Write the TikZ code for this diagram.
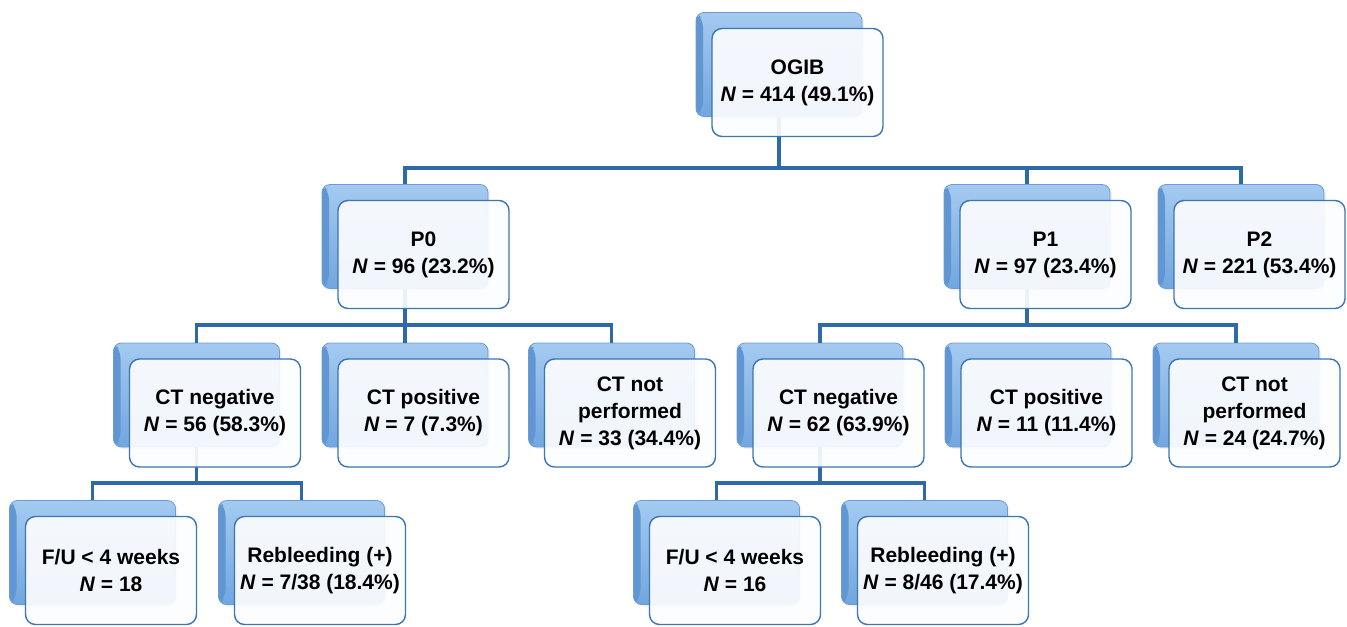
\documentclass[tikz,border=0pt]{standalone}
\usepackage{fontspec}
\setmainfont{Liberation Sans}
\usetikzlibrary{shadows}
\definecolor{cardtop}{HTML}{A4CAF0}
\definecolor{cardmid}{HTML}{7EB1E7}
\definecolor{cardmain}{HTML}{71A6DF}
\definecolor{carddark}{HTML}{6196D2}
\definecolor{cardedge}{HTML}{6A9DD6}
\definecolor{frontedge}{HTML}{3B75B2}
\definecolor{frontfill}{HTML}{FCFDFF}
\definecolor{linkblue}{HTML}{2D6AA7}
\begin{document}
\begin{tikzpicture}[x=0.5pt, y=-0.5pt,
  backcard/.style={rounded corners=4pt, draw=cardedge, line width=0.4pt,
    minimum width=83pt, minimum height=52pt, inner sep=0pt,
    top color=cardtop, middle color=cardmid, bottom color=cardmain,
    drop shadow={opacity=0.12, shadow xshift=1pt, shadow yshift=-1pt},
    path picture={\fill[carddark] (path picture bounding box.north west)
      -- ++(3.5pt,-3.5pt) -- ([shift={(3.5pt,3.5pt)}]path picture bounding box.south west)
      -- (path picture bounding box.south west) -- cycle;}},
  frontbox/.style={rounded corners=5pt, draw=frontedge, line width=0.7pt,
    fill=frontfill, fill opacity=0.92, text opacity=1,
    minimum width=85.5pt, minimum height=54pt, inner sep=0pt, align=center,
    font=\bfseries\fontsize{10.5}{13.5}\selectfont},
  link/.style={draw=linkblue, line width=1.6pt}]
  \useasboundingbox (0,0) rectangle (1347,626);
  % Ebenen der Querlinien
  \coordinate (lev1) at (0,168);
  \coordinate (lev2) at (0,325);
  \coordinate (lev3) at (0,483);
  % hintere Karten
  \foreach \nm/\px/\py in {ogib/779/64.5, p0/405/236.5, p1/1027/236.5, p2/1241/236.5,
      ctnl/196.5/395, ctpl/405/395, ctxl/611.5/395,
      ctnr/820/395, ctpr/1028/395, ctxr/1236/395,
      ful/92.5/552.5, rbl/301.5/552.5, fur/716.5/552.5, rbr/924.5/552.5}
    \node[backcard] (\nm-b) at (\px,\py) {};
  % Verbindungen
  \draw[link] (ogib-b.south) -- (ogib-b.south |- lev1);
  \draw[link] (p0-b.north) |- (lev1 -| ogib-b.south) -| (p2-b.north);
  \draw[link] (p1-b.north) -- (p1-b.north |- lev1);
  \draw[link] (p0-b.south) -- (p0-b.south |- lev2);
  \draw[link] (ctnl-b.north) |- (lev2 -| p0-b.south) -| (ctxl-b.north);
  \draw[link] (ctpl-b.north) -- (ctpl-b.north |- lev2);
  \draw[link] (p1-b.south) -- (p1-b.south |- lev2);
  \draw[link] (ctnr-b.north) |- (lev2 -| p1-b.south) -| (ctxr-b.north);
  \draw[link] (ctnl-b.south) -- (ctnl-b.south |- lev3);
  \draw[link] (ful-b.north) |- (lev3 -| ctnl-b.south) -| (rbl-b.north);
  \draw[link] (ctnr-b.south) -- (ctnr-b.south |- lev3);
  \draw[link] (fur-b.north) |- (lev3 -| ctnr-b.south) -| (rbr-b.north);
  % vordere Boxen
  \node[frontbox] (ogib) at ([shift={(18.5,18)}]ogib-b.center) {OGIB\\\textit{N} = 414 (49.1\%)};
  \node[frontbox] (p0) at ([shift={(18.5,18)}]p0-b.center) {P0\\\textit{N} = 96 (23.2\%)};
  \node[frontbox] (p1) at ([shift={(18.5,18)}]p1-b.center) {P1\\\textit{N} = 97 (23.4\%)};
  \node[frontbox] (p2) at ([shift={(18.5,18)}]p2-b.center) {P2\\\textit{N} = 221 (53.4\%)};
  \node[frontbox] (ctnl) at ([shift={(18.5,18)}]ctnl-b.center) {CT negative\\\textit{N} = 56 (58.3\%)};
  \node[frontbox] (ctpl) at ([shift={(18.5,18)}]ctpl-b.center) {CT positive\\\textit{N} = 7 (7.3\%)};
  \node[frontbox] (ctxl) at ([shift={(18.5,18)}]ctxl-b.center) {CT not\\performed\\\textit{N} = 33 (34.4\%)};
  \node[frontbox] (ctnr) at ([shift={(18.5,18)}]ctnr-b.center) {CT negative\\\textit{N} = 62 (63.9\%)};
  \node[frontbox] (ctpr) at ([shift={(18.5,18)}]ctpr-b.center) {CT positive\\\textit{N} = 11 (11.4\%)};
  \node[frontbox] (ctxr) at ([shift={(18.5,18)}]ctxr-b.center) {CT not\\performed\\\textit{N} = 24 (24.7\%)};
  \node[frontbox] (ful) at ([shift={(18.5,18)}]ful-b.center) {F/U < 4 weeks\\\textit{N} = 18};
  \node[frontbox] (rbl) at ([shift={(18.5,18)}]rbl-b.center) {Rebleeding (+)\\\textit{N} = 7/38 (18.4\%)};
  \node[frontbox] (fur) at ([shift={(18.5,18)}]fur-b.center) {F/U < 4 weeks\\\textit{N} = 16};
  \node[frontbox] (rbr) at ([shift={(18.5,18)}]rbr-b.center) {Rebleeding (+)\\\textit{N} = 8/46 (17.4\%)};
\end{tikzpicture}
\end{document}
